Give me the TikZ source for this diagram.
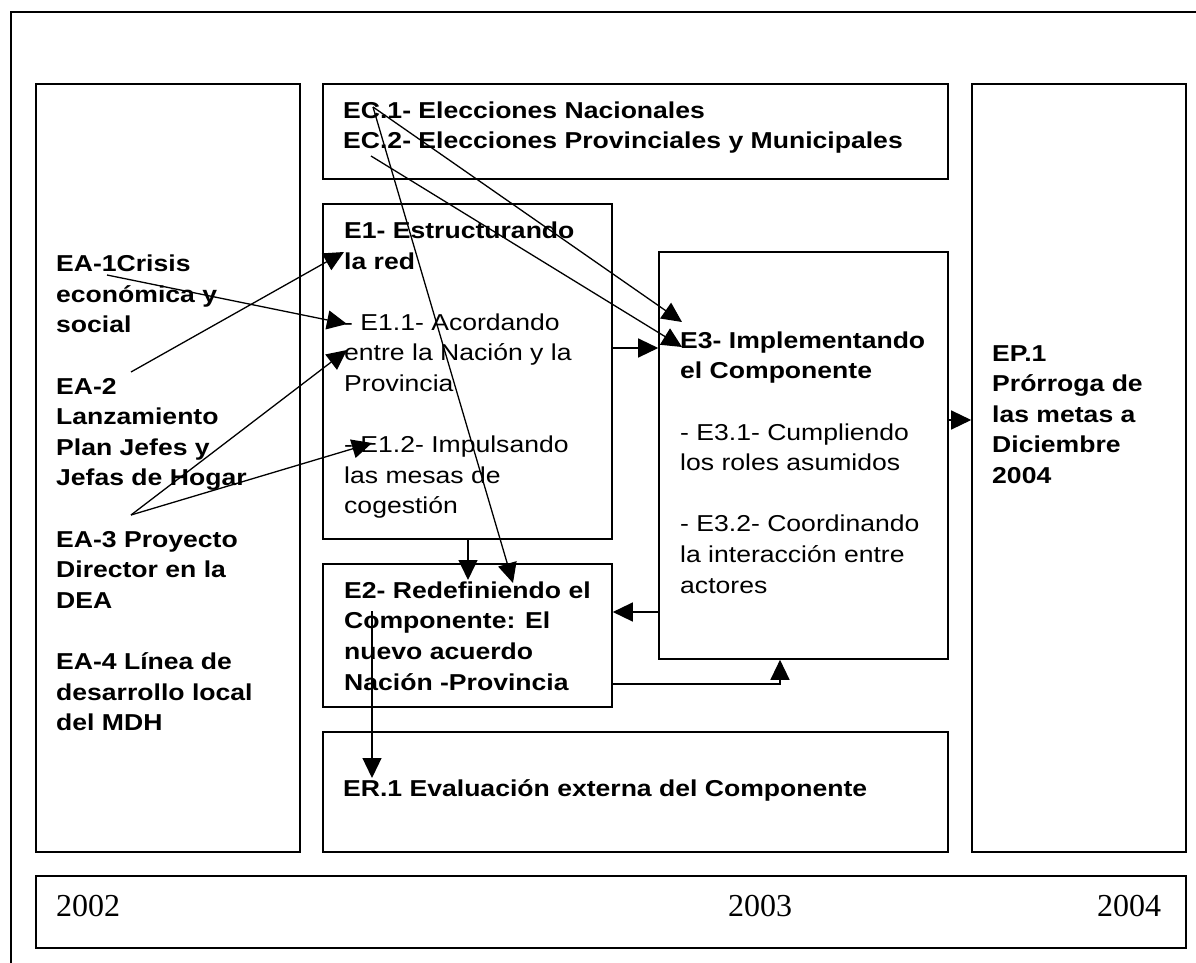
\documentclass[tikz,border=0pt]{standalone}
\usepackage{fontspec}
\setmainfont{Liberation Sans}[FakeStretch=1.155]
\newfontfamily\yearfont{Liberation Serif}
\usetikzlibrary{arrows.meta}
\newcommand{\txtlines}[1]{\vtop{\baselineskip=30.6pt\lineskip=0pt\lineskiplimit=-100pt\halign{##\hfil\cr#1\crcr}}}
\begin{document}
\begin{tikzpicture}[x=1pt,y=-1pt,
  box/.style={draw=black, line width=1.6pt, fill=white, inner sep=0pt, rectangle},
  txt/.style={inner sep=0pt, anchor=base west, font=\fontsize{23}{30.6}\selectfont},
  yr/.style={inner sep=0pt, anchor=base west, font=\yearfont\fontsize{32}{36}\selectfont},
  arr/.style={line width=1.3pt, -{Triangle[length=20pt,width=19pt]}},
  ln/.style={line width=1.3pt}]
\useasboundingbox (0,0) rectangle (1196,963);
\fill[white] (0,0) rectangle (1196,963);
% outer frame
\draw[line width=1.5pt] (11,963) -- (11,12) -- (1196,12);
% boxes
\node[box, minimum width=264pt, minimum height=768pt] (ea) at (168,468) {};
\node[box, minimum width=625pt, minimum height=95pt] (ec) at (635.5,131.5) {};
\node[box, minimum width=289pt, minimum height=335pt] (e1) at (467.5,371.5) {};
\node[box, minimum width=289pt, minimum height=407pt] (e3) at (803.5,455.5) {};
\node[box, minimum width=289pt, minimum height=143pt] (e2) at (467.5,635.5) {};
\node[box, minimum width=625pt, minimum height=120pt] (er) at (635.5,792) {};
\node[box, minimum width=214pt, minimum height=768pt] (ep) at (1079,468) {};
\node[box, minimum width=1150pt, minimum height=72pt] (yb) at (611,912) {};
% texts
\node[txt] (eat) at (56,271.7) {\txtlines{\bfseries EA-1Crisis\cr\bfseries económica y\cr\bfseries social\cr{}\cr\bfseries EA-2\cr\bfseries Lanzamiento\cr\bfseries Plan Jefes y\cr\bfseries Jefas de Hogar\cr{}\cr\bfseries EA-3 Proyecto\cr\bfseries Director en la\cr\bfseries DEA\cr{}\cr\bfseries EA-4 Línea de\cr\bfseries desarrollo local\cr\bfseries del MDH}};
\node[txt] (ect) at (343,118.3) {\txtlines{\bfseries EC.1- Elecciones Nacionales\cr\bfseries EC.2- Elecciones Provinciales y Municipales}};
\node[txt] (e1t) at (344,238.5) {\txtlines{\bfseries E1- Estructurando\cr\bfseries la red\cr{}\cr - E1.1- Acordando\cr entre la Nación y la\cr Provincia\cr{}\cr - E1.2- Impulsando\cr las mesas de\cr cogestión}};
\node[txt] (e3t) at (680,348.3) {\txtlines{\bfseries E3- Implementando\cr\bfseries el Componente\cr{}\cr - E3.1- Cumpliendo\cr los roles asumidos\cr{}\cr - E3.2- Coordinando\cr la interacción entre\cr actores}};
\node[txt] (e2t) at (344,598.3) {\txtlines{\bfseries E2- Redefiniendo el\cr\bfseries Componente: El\cr\bfseries nuevo acuerdo\cr\bfseries Nación -Provincia}};
\node[txt] (ert) at (343,796.7) {\bfseries ER.1 Evaluación externa del Componente};
\node[txt] (ept) at (992,361) {\txtlines{\bfseries EP.1\cr\bfseries Prórroga de\cr\bfseries las metas a\cr\bfseries Diciembre\cr\bfseries 2004}};
\node[yr] (y2) at (56,916.7) {2002};
\node[yr] (y3) at (728,916.7) {2003};
\node[yr] (y4) at (1097,916.7) {2004};
% connector end points
\coordinate (ec1s) at (373,107);
\coordinate (ec2s) at (371,156);
\coordinate (ea1s) at (107,275);
\coordinate (ea2s) at (131,372);
\coordinate (ea3s) at (131,515);
\coordinate (e1in) at (344,252);
\coordinate (e11a) at (347,324);
\coordinate (e11b) at (347,350);
\coordinate (e12in) at (372,443);
\coordinate (e3a) at (682,322);
\coordinate (e3b) at (682,347);
\coordinate (e2a) at (468,580);
\coordinate (e2b) at (513,583);
\coordinate (e2s) at (372,611);
\coordinate (erin) at (372,778);
% connectors
\draw[arr] (e1.east |- 0,348) -- (e3.west |- 0,348);
\draw[arr] (e3.east |- 0,420) -- (ep.west |- 0,420);
\draw[arr] (e3.west |- 0,612) -- (e2.east |- 0,612);
\draw[arr] (e2.east |- 0,684) -| (e3.south -| 780,0);
\draw[arr] (e1.south -| e2a) -- (e2a);
\draw[arr] (ec1s) -- (e2b);
\draw[arr] (ec1s) -- (e3a);
\draw[arr] (ec2s) -- (e3b);
\draw[arr] (ea1s) -- (e11a);
\draw[arr] (ea2s) -- (e1in);
\draw[arr] (ea3s) -- (e11b);
\draw[arr] (ea3s) -- (e12in);
\draw[arr] (e2s) -- (erin);
\end{tikzpicture}
\end{document}
